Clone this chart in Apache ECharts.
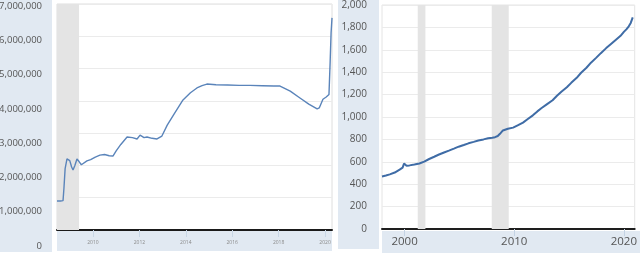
<!DOCTYPE html>
<html>
<head>
<meta charset="utf-8">
<script src="https://cdn.jsdelivr.net/npm/echarts@6/dist/echarts.min.js"></script>
<style>
html,body{margin:0;padding:0;background:#fff;}
#c{width:640px;height:253px;}
</style>
</head>
<body>
<div id="c"></div>
<script>
// ---- Left chart: Fed total assets (millions of dollars) ----
const leftYears = [2008.45, 2008.6, 2008.71, 2008.75, 2008.8, 2008.88, 2008.92, 2009.0, 2009.08, 2009.14, 2009.22, 2009.31, 2009.4, 2009.5, 2009.57, 2009.74, 2009.9, 2010.1, 2010.3, 2010.5, 2010.7, 2010.86, 2011.0, 2011.2, 2011.47, 2011.7, 2011.9, 2012.03, 2012.2, 2012.33, 2012.55, 2012.76, 2012.97, 2013.2, 2013.5, 2013.88, 2014.2, 2014.48, 2014.7, 2014.91, 2015.3, 2015.8, 2016.3, 2016.77, 2017.3, 2017.8, 2018.06, 2018.5, 2018.92, 2019.3, 2019.66, 2019.75, 2019.91, 2020.05, 2020.13, 2020.17, 2020.22, 2020.26, 2020.30];
const leftValues = [0.90, 0.90, 0.91, 1.30, 1.90, 2.20, 2.26, 2.15, 1.95, 1.86, 2.00, 2.20, 2.12, 2.02, 2.01, 2.14, 2.18, 2.26, 2.32, 2.34, 2.30, 2.29, 2.45, 2.65, 2.88, 2.86, 2.82, 2.94, 2.86, 2.88, 2.84, 2.82, 2.91, 3.25, 3.60, 4.03, 4.25, 4.40, 4.47, 4.52, 4.50, 4.49, 4.48, 4.48, 4.47, 4.46, 4.46, 4.30, 4.09, 3.90, 3.75, 3.78, 4.05, 4.12, 4.18, 4.20, 5.2, 6.1, 6.57].map(v => v * 1e6);
const leftRecessions = [[2007.92, 2009.4]];
const leftXTicks = [2010, 2012, 2014, 2016, 2018, 2020];

// ---- Right chart: currency in circulation (billions of dollars) ----
const rightYears = [1997.94, 1998.3, 1998.65, 1999.1, 1999.55, 1999.82, 1999.95, 2000.02, 2000.18, 2000.45, 2000.9, 2001.35, 2001.79, 2002.24, 2002.7, 2003.14, 2003.6, 2004.04, 2004.5, 2004.93, 2005.4, 2005.83, 2006.3, 2006.73, 2007.2, 2007.62, 2008.0, 2008.25, 2008.5, 2008.7, 2008.97, 2009.42, 2009.9, 2010.31, 2010.8, 2011.21, 2011.7, 2012.11, 2012.5, 2013.0, 2013.5, 2013.9, 2014.3, 2014.8, 2015.2, 2015.7, 2016.1, 2016.59, 2017.0, 2017.49, 2017.9, 2018.39, 2018.8, 2019.28, 2019.7, 2020.0, 2020.25, 2020.45, 2020.63, 2020.81];
const rightValues = [469, 477, 488, 504, 530, 548, 585, 598, 565, 568, 575, 585, 602, 625, 645, 665, 683, 700, 718, 735, 750, 765, 778, 790, 800, 810, 815, 820, 830, 850, 880, 895, 905, 925, 950, 980, 1015, 1050, 1080, 1115, 1150, 1190, 1225, 1265, 1305, 1350, 1395, 1440, 1485, 1530, 1570, 1615, 1650, 1690, 1725, 1760, 1785, 1810, 1840, 1890];
const rightRecessions = [[2001.2, 2001.9], [2007.95, 2009.5]];
const rightXTicks = [2000, 2010, 2020];

function pairs(xs, ys){ return xs.map((x, i) => [x, ys[i]]); }
function commas(v){ return String(Math.round(v)).replace(/\B(?=(\d{3})+(?!\d))/g, ','); }
function plain(v){ return String(Math.round(v)); }

const L_MIN = 2008.45, L_MAX = 2020.30;
const R_MIN = 1997.94, R_MAX = 2020.99;
const strip = '#e1e9f2';
const font = 'Open Sans, Noto Sans, sans-serif';

const chart = echarts.init(document.getElementById('c'), null, {renderer: 'canvas'});
chart.setOption({
  animation: false,
  backgroundColor: '#fff',
  graphic: [
    {type: 'rect', z: -10, shape: {x: 0, y: 0, width: 52, height: 252}, style: {fill: strip}},
    {type: 'rect', z: -10, shape: {x: 57, y: 231, width: 275, height: 20}, style: {fill: strip}},
    {type: 'rect', z: -10, shape: {x: 338, y: 0, width: 41, height: 249}, style: {fill: strip}},
    {type: 'rect', z: -10, shape: {x: 382, y: 231, width: 258, height: 22}, style: {fill: strip}}
  ],
  grid: [
    {left: 57, top: 4, width: 275, height: 226, show: true, backgroundColor: '#fff', borderColor: '#dedede', borderWidth: 1},
    {left: 382, top: 3, width: 257, height: 226, show: true, backgroundColor: '#fff', borderColor: '#e4e4e4', borderWidth: 1},
    {left: 44, top: 6, width: 1, height: 240, show: false}
  ],
  xAxis: [
    {gridIndex: 0, type: 'value', min: L_MIN, max: L_MAX,
     axisLine: {show: true, onZero: false, lineStyle: {color: '#1a1a1a', width: 2}},
     axisTick: {show: true, length: 7, customValues: leftXTicks, lineStyle: {color: '#c9d7e6'}},
     axisLabel: {customValues: leftXTicks, formatter: plain, fontSize: 5, color: '#8a8a8a', margin: 10, fontFamily: font},
     splitLine: {show: false}},
    {gridIndex: 1, type: 'value', min: R_MIN, max: R_MAX,
     axisLine: {show: true, onZero: false, lineStyle: {color: '#1e1e1e', width: 2}},
     axisTick: {show: true, length: 7, customValues: rightXTicks, lineStyle: {color: '#c4d3e4'}},
     axisLabel: {customValues: rightXTicks, formatter: plain, fontSize: 11.5, color: '#555', margin: 7, fontFamily: font},
     splitLine: {show: false}},
    {gridIndex: 2, type: 'value', show: false, min: 0, max: 1}
  ],
  yAxis: [
    {gridIndex: 0, type: 'value', min: 0, max: 7e6, interval: 1e6,
     axisLine: {show: false}, axisTick: {show: false}, axisLabel: {show: false},
     splitLine: {show: true, lineStyle: {color: '#ebebeb', width: 1}}},
    {gridIndex: 1, type: 'value', min: 0, max: 2000, interval: 200,
     axisLine: {show: false}, axisTick: {show: false},
     axisLabel: {formatter: commas, fontSize: 10, color: '#555', margin: 15, fontFamily: font},
     splitLine: {show: true, lineStyle: {color: '#ebebeb', width: 1}}},
    {gridIndex: 2, type: 'value', min: 0, max: 7e6, interval: 1e6,
     axisLine: {show: false}, axisTick: {show: false}, splitLine: {show: false},
     axisLabel: {formatter: commas, fontSize: 9.5, color: '#555', margin: 3, fontFamily: font}}
  ],
  series: [
    {type: 'line', xAxisIndex: 0, yAxisIndex: 0, data: pairs(leftYears, leftValues),
     showSymbol: false, symbol: 'none', lineStyle: {color: '#5a84ba', width: 1.4},
     markArea: {silent: true, itemStyle: {color: '#e4e4e4'},
       data: leftRecessions.map(r => [{xAxis: Math.max(r[0], L_MIN)}, {xAxis: Math.min(r[1], L_MAX)}])}},
    {type: 'line', xAxisIndex: 1, yAxisIndex: 1, data: pairs(rightYears, rightValues),
     showSymbol: false, symbol: 'none', lineStyle: {color: '#3f6ca6', width: 2},
     markArea: {silent: true, itemStyle: {color: '#e4e4e4'},
       data: rightRecessions.map(r => [{xAxis: r[0]}, {xAxis: r[1]}])}}
  ]
});
</script>
</body>
</html>
